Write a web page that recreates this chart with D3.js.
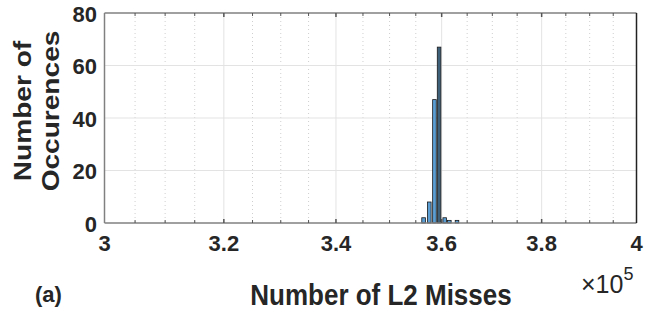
<!DOCTYPE html>
<html>
<head>
<meta charset="utf-8">
<script src="https://cdn.jsdelivr.net/npm/d3@7"></script>
<style>
  html, body { margin: 0; padding: 0; background: #fff; }
  svg { display: block; }
  text { font-family: "Liberation Sans", Arial, Helvetica, sans-serif; fill: #262626; }
</style>
</head>
<body>
<svg id="chart" width="664" height="329"></svg>
<script>
// ---- data ----
const binCenters = [356500, 357600, 358600, 359500, 360600, 361500, 363000];
const binCounts  = [2, 8, 47, 67, 2, 1, 1];
const binWidth = 1000;
const highlightIndex = 3;
const xMajorTicks = [300000, 320000, 340000, 360000, 380000, 400000];
const xTickLabels = ["3", "3.2", "3.4", "3.6", "3.8", "4"];
const xMinorTicks = d3.range(305000, 400000, 5000).filter(v => v % 20000 !== 0);
const yTicks = [0, 20, 40, 60, 80];

const svg = d3.select("#chart");
const L = 104.5, R = 636.5, T = 13, B = 223;

const x = d3.scaleLog().domain([300000, 400000]).range([L, R]);
const y = d3.scaleLinear().domain([0, 80]).range([B, T]);

// grid: minor dotted vertical
svg.append("g").selectAll("line").data(xMinorTicks).join("line")
  .attr("x1", d => x(d)).attr("x2", d => x(d))
  .attr("y1", T).attr("y2", B)
  .attr("stroke", "#cfcfcf").attr("stroke-width", 1)
  .attr("stroke-dasharray", "1,3");
// major vertical
svg.append("g").selectAll("line").data(xMajorTicks.slice(1, -1)).join("line")
  .attr("x1", d => x(d)).attr("x2", d => x(d))
  .attr("y1", T).attr("y2", B)
  .attr("stroke", "#e3e3e3").attr("stroke-width", 1);
// major horizontal
svg.append("g").selectAll("line").data(yTicks.slice(1, -1)).join("line")
  .attr("x1", L).attr("x2", R)
  .attr("y1", d => y(d)).attr("y2", d => y(d))
  .attr("stroke", "#e3e3e3").attr("stroke-width", 1);

// bars
const bw = 0.7;
svg.append("g").selectAll("rect").data(binCenters).join("rect")
  .attr("x", d => x(d - binWidth * bw / 2))
  .attr("width", d => x(d + binWidth * bw / 2) - x(d - binWidth * bw / 2))
  .attr("y", (d, i) => y(binCounts[i]))
  .attr("height", (d, i) => y(0) - y(binCounts[i]))
  .attr("fill", (d, i) => i === highlightIndex ? "#3f6079" : "#5a9ed4")
  .attr("stroke", "#1a1a1a").attr("stroke-width", 0.8);

// axes box
const box = svg.append("g");
box.append("line").attr("x1", L).attr("x2", R).attr("y1", B).attr("y2", B).attr("stroke", "#808080").attr("stroke-width", 1.5);
box.append("line").attr("x1", L).attr("x2", R).attr("y1", T).attr("y2", T).attr("stroke", "#808080").attr("stroke-width", 1.5);
box.append("line").attr("x1", L).attr("x2", L).attr("y1", T).attr("y2", B).attr("stroke", "#808080").attr("stroke-width", 1.5);
box.append("line").attr("x1", R).attr("x2", R).attr("y1", T).attr("y2", B).attr("stroke", "#222").attr("stroke-width", 1.5);

// x ticks (inside, bottom and top)
const allX = xMajorTicks.slice(1, -1).concat(xMinorTicks);
box.selectAll(".tb").data(allX).join("line")
  .attr("x1", d => x(d)).attr("x2", d => x(d))
  .attr("y1", B).attr("y2", d => xMajorTicks.includes(d) ? B - 4 : B - 3)
  .attr("stroke", "#555").attr("stroke-width", d => xMajorTicks.includes(d) ? 1.5 : 1);
box.selectAll(".tt").data(allX).join("line")
  .attr("x1", d => x(d)).attr("x2", d => x(d))
  .attr("y1", T).attr("y2", d => xMajorTicks.includes(d) ? T + 4 : T + 3)
  .attr("stroke", "#555").attr("stroke-width", d => xMajorTicks.includes(d) ? 1.5 : 1);

// tick labels
svg.append("g").selectAll("text").data(xMajorTicks).join("text")
  .attr("x", d => x(d)).attr("y", 251)
  .attr("text-anchor", "middle")
  .attr("font-size", 22).attr("font-weight", "bold")
  .text((d, i) => xTickLabels[i]);
svg.append("g").selectAll("text").data(yTicks).join("text")
  .attr("x", 97).attr("y", d => y(d) + 8.5)
  .attr("text-anchor", "end")
  .attr("font-size", 22).attr("font-weight", "bold")
  .text(d => d);

// x label
svg.append("text")
  .attr("transform", "translate(381,305) scale(1,1.15)")
  .attr("text-anchor", "middle")
  .attr("font-size", 26).attr("font-weight", "bold")
  .text("Number of L2 Misses");

// exponent
const ex = svg.append("text").attr("x", 581).attr("y", 293).attr("font-size", 25);
ex.append("tspan").text("\u00d710");
ex.append("tspan").attr("dy", -13).attr("font-size", 18).text("5");

// y label
const yl = svg.append("text")
  .attr("transform", "translate(0,111) rotate(-90) scale(1.17,1)")
  .attr("text-anchor", "middle")
  .attr("font-size", 24).attr("font-weight", "bold");
yl.append("tspan").attr("x", 0).attr("y", 31).text("Number of");
yl.append("tspan").attr("x", 0).attr("y", 59).text("Occurences");

// panel label
svg.append("text").attr("x", 35).attr("y", 302)
  .attr("font-size", 22).attr("font-weight", "bold").text("(a)");
</script>
</body>
</html>
